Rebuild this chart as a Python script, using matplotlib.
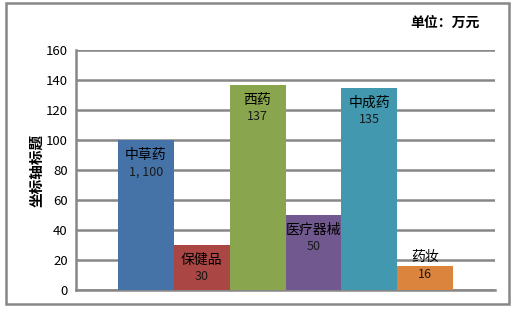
import matplotlib.pyplot as plt
from matplotlib.patches import Rectangle

plt.rcParams['font.family'] = ['Noto Sans CJK SC', 'DejaVu Sans']

categories = ['中草药', '保健品', '西药', '医疗器械', '中成药', '药妆']
values = [100, 30, 137, 50, 135, 16]
value_labels = ['1, 100', '30', '137', '50', '135', '16']
colors = ['#4572A7', '#AA4643', '#89A54E', '#71588F', '#4198AF', '#DB843D']
yticks = [0, 20, 40, 60, 80, 100, 120, 140, 160]

fig = plt.figure(figsize=(5.18, 3.09), dpi=100)
ax = fig.add_axes([76 / 518, 19 / 309, 419 / 518, 240 / 309])

x = range(len(categories))
ax.bar(x, values, width=1.0, color=colors, zorder=3)

# labels inside the top of each bar (药妆 is too short, name goes above)
for i, (v, name, lab) in enumerate(zip(values, categories, value_labels)):
    if v < 25:
        ax.annotate(name, (i, v), xytext=(0, 9), textcoords='offset pixels',
                    ha='center', va='center', fontsize=10, zorder=4)
        ax.annotate(lab, (i, v), xytext=(0, -8), textcoords='offset pixels',
                    ha='center', va='center', fontsize=9, color='#1a1a1a', zorder=4)
    else:
        ax.annotate(name, (i, v), xytext=(0, -15), textcoords='offset pixels',
                    ha='center', va='center', fontsize=10, zorder=4)
        ax.annotate(lab, (i, v), xytext=(0, -32), textcoords='offset pixels',
                    ha='center', va='center', fontsize=9, color='#1a1a1a', zorder=4)

ax.set_xlim(-1.25, 6.25)
ax.set_ylim(0, 160)
ax.set_yticks(yticks)
ax.set_xticks([])
ax.tick_params(axis='y', length=0, labelsize=9.5, pad=6)
ax.yaxis.grid(True, color='#878787', linewidth=1.8, zorder=0)
for s in ['top', 'right']:
    ax.spines[s].set_visible(False)
for s in ['left', 'bottom']:
    ax.spines[s].set_color('#878787')
    ax.spines[s].set_linewidth(1.8)

ax.set_ylabel('坐标轴标题', fontsize=10.5, fontweight='bold', labelpad=1)
fig.text(480 / 518, 1 - 23 / 309, '单位：万元', ha='right', va='center',
         fontsize=10, fontweight='bold')

fig.patches.append(Rectangle((6 / 518, 5 / 309), 503 / 518, 301 / 309,
                             transform=fig.transFigure, fill=False,
                             edgecolor='#878787', linewidth=1.8))

fig.savefig('out.png', dpi=100)
